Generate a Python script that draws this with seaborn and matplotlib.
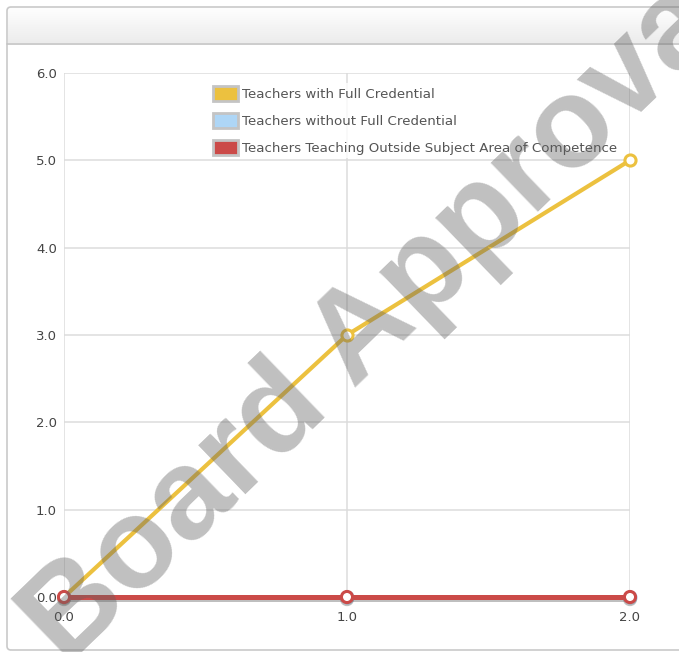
import numpy as np
import pandas as pd
import matplotlib
matplotlib.use("Agg")
import matplotlib.pyplot as plt
import matplotlib.patheffects as pe
from matplotlib.patches import Patch, FancyBboxPatch
from matplotlib.lines import Line2D
import seaborn as sns

# ---- data ----
x_values = [0.0, 1.0, 2.0]
full_credential = [0.0, 3.0, 5.0]
without_credential = [0.0, 0.0, 0.0]
outside_subject = [0.0, 0.0, 0.0]
series_names = [
    "Teachers with Full Credential",
    "Teachers without Full Credential",
    "Teachers Teaching Outside Subject Area of Competence",
]
series_colors = ["#ECC13F", "#AED6F6", "#CB4A48"]
line_widths = [3.0, 3.6, 3.6]
y_ticks = [0.0, 1.0, 2.0, 3.0, 4.0, 5.0, 6.0]
x_ticks = [0.0, 1.0, 2.0]

df = pd.DataFrame({
    "x": x_values * 3,
    "value": full_credential + without_credential + outside_subject,
    "series": [series_names[0]] * 3 + [series_names[1]] * 3 + [series_names[2]] * 3,
})

sns.set_theme(style="white")
plt.rcParams["font.family"] = ["DejaVu Sans"]

W, H = 679, 652
fig = plt.figure(figsize=(W / 100, H / 100), dpi=100)
fig.patch.set_facecolor("white")

# header strip with soft gradient
hdr = fig.add_axes([8 / W, 1 - 43 / H, 1 - 8 / W, 35 / H], zorder=-5)
grad = np.linspace(0, 1, 64).reshape(-1, 1)
hdr.imshow(grad, aspect="auto", cmap=matplotlib.colors.LinearSegmentedColormap.from_list(
    "hdr", ["#fefefe", "#ececec"]), extent=[0, 1, 0, 1], origin="upper")
hdr.set_axis_off()

# panel outline
panel = FancyBboxPatch((7 / W, 2 / H), 2.0, 1 - 9 / H,
                       boxstyle="round,pad=0,rounding_size=0.006",
                       transform=fig.transFigure, facecolor="none",
                       edgecolor="#c9c9c9", linewidth=1.2, zorder=-1)
fig.add_artist(panel)
fig.add_artist(Line2D([7 / W, 1], [1 - 43.5 / H, 1 - 43.5 / H], transform=fig.transFigure,
                      color="#c4c4c4", linewidth=1.2))

ax = fig.add_axes([64 / W, 1 - 597 / H, (630 - 64) / W, (597 - 73) / H])
ax.set_facecolor("white")

sns.lineplot(data=df, x="x", y="value", hue="series", hue_order=series_names,
             palette=series_colors, marker="o", markersize=8, linewidth=3.2,
             ax=ax, legend=False, zorder=3)

for line, col, lw in zip(ax.lines, series_colors, line_widths):
    line.set_linewidth(lw)
    line.set_markerfacecolor("white")
    line.set_markeredgecolor(col)
    line.set_markeredgewidth(2.2)
    line.set_clip_on(False)
    line.set_solid_capstyle("round")
ax.lines[-1].set_path_effects([pe.SimpleLineShadow(offset=(0, -1.5), shadow_color="gray", alpha=0.5),
                               pe.Normal()])

ax.set_xlim(0, 2)
ax.set_ylim(0, 6)
ax.set_xticks(x_ticks)
ax.set_yticks(y_ticks)
ax.set_xticklabels([f"{v:.1f}" for v in x_ticks])
ax.set_yticklabels([f"{v:.1f}" for v in y_ticks])
ax.set_xlabel("")
ax.set_ylabel("")
ax.grid(True, color="#dcdcdc", linewidth=1.1)
ax.set_axisbelow(True)
for s in ax.spines.values():
    s.set_visible(False)
ax.tick_params(axis="both", length=0, labelsize=9.5, labelcolor="#444444")
ax.tick_params(axis="y", pad=5)
ax.tick_params(axis="x", pad=10)

handles = [Patch(facecolor=c, edgecolor="#c4c4c4", linewidth=2) for c in series_colors]
leg = ax.legend(handles, series_names, loc="upper left",
                bbox_to_anchor=(210 / W, 1 - 83 / H), bbox_transform=fig.transFigure,
                frameon=True, fontsize=9.6, handlelength=1.9, handleheight=1.35,
                handletextpad=0.3, labelspacing=0.92, borderpad=0.2, borderaxespad=0,
                fancybox=False)
leg.get_frame().set_facecolor("white")
leg.get_frame().set_alpha(0.8)
leg.get_frame().set_edgecolor("none")
for t in leg.get_texts():
    t.set_color("#555555")

# watermark
fig.text(386 / W, 1 - 313 / H, "Board Approval", rotation=44, rotation_mode="anchor",
         ha="center", va="center", fontsize=92, fontweight="bold",
         family="Liberation Sans", color="#616161", alpha=0.4, zorder=20)

fig.savefig("out.png", dpi=100)
